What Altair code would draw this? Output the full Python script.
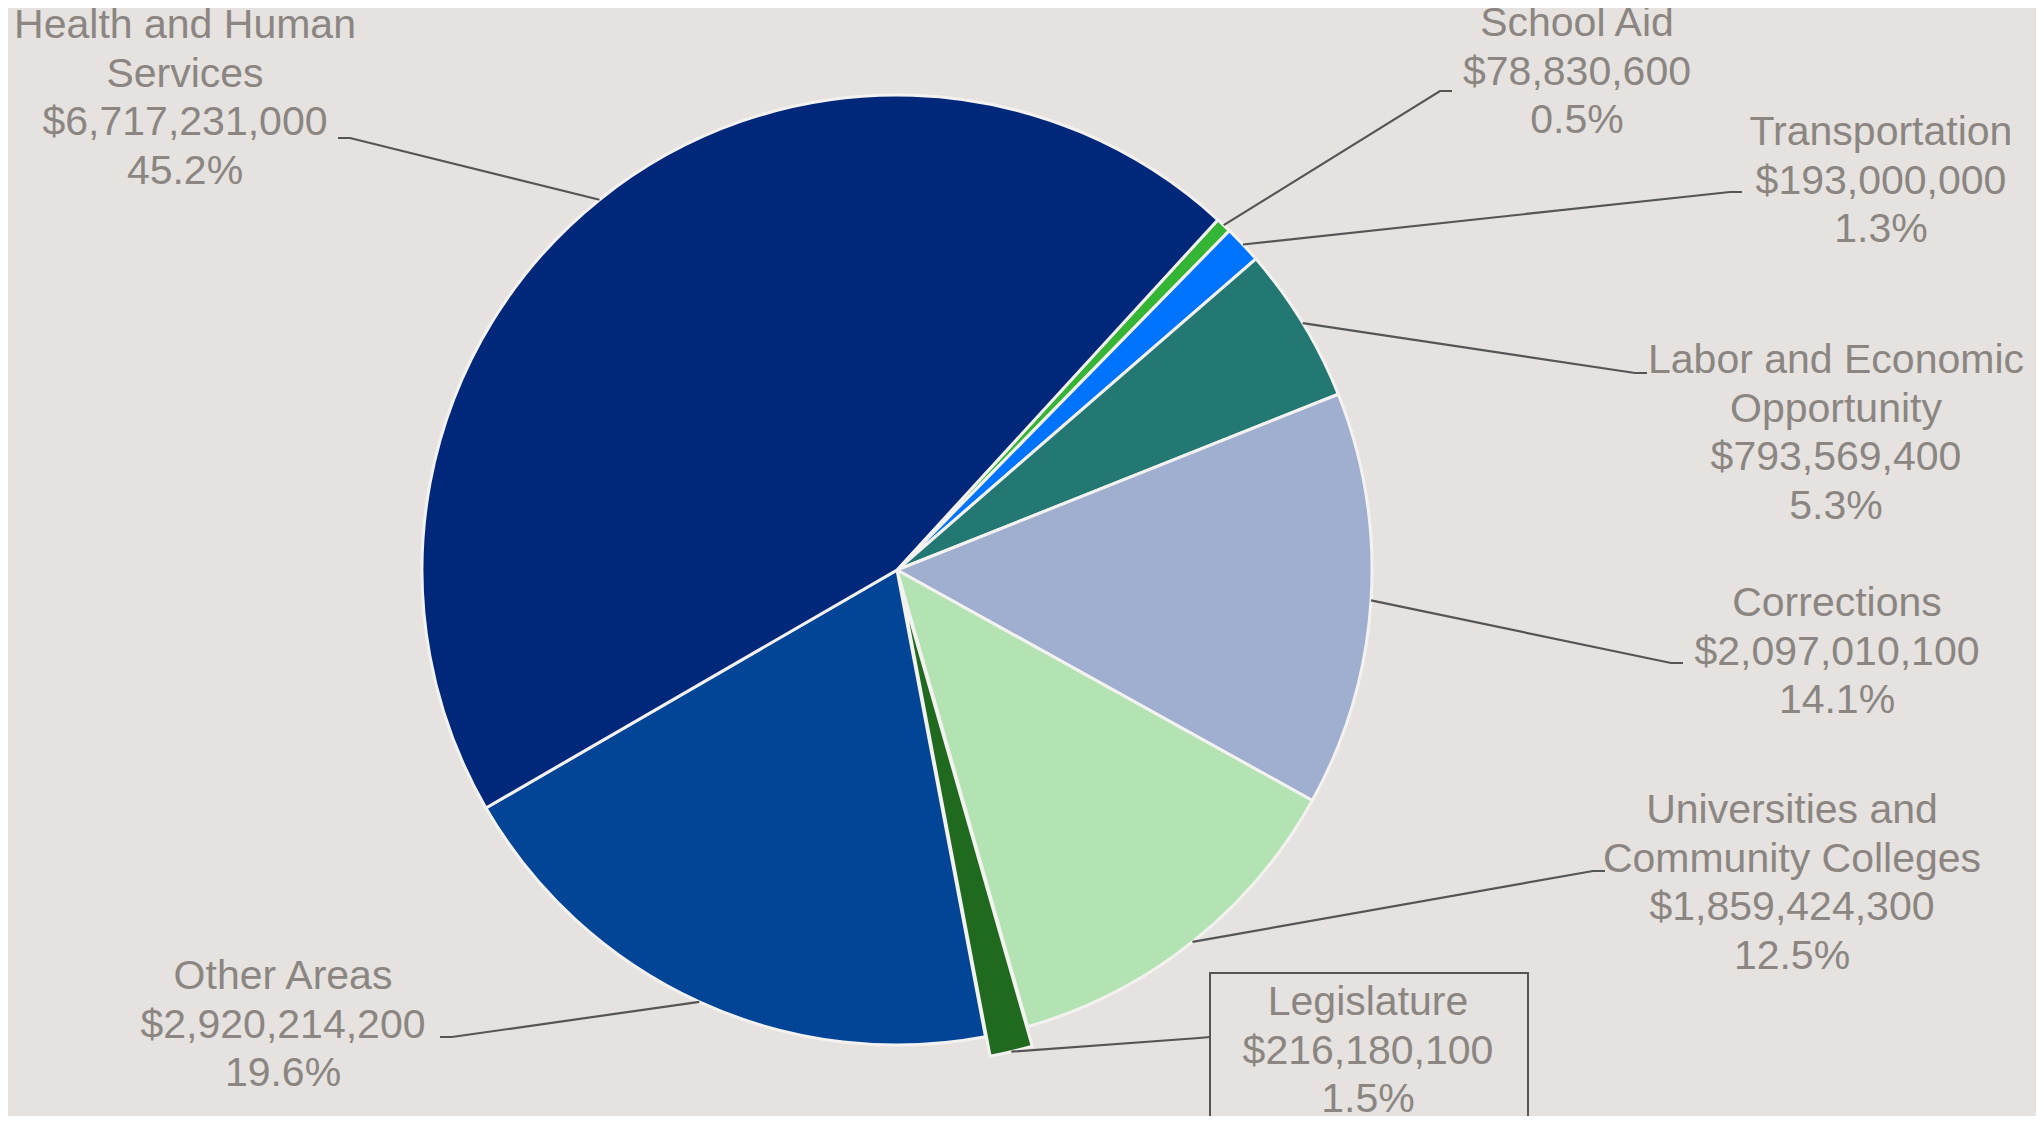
import math
import altair as alt
import pandas as pd

# ---------------- data ----------------
categories = [
    "School Aid",
    "Transportation",
    "Labor and Economic Opportunity",
    "Corrections",
    "Universities and Community Colleges",
    "Legislature",
    "Other Areas",
    "Health and Human Services",
]
label_names = [
    "School Aid",
    "Transportation",
    "Labor and Economic\nOpportunity",
    "Corrections",
    "Universities and\nCommunity Colleges",
    "Legislature",
    "Other Areas",
    "Health and Human\nServices",
]
values = [78830600, 193000000, 793569400, 2097010100, 1859424300,
          216180100, 2920214200, 6717231000]

# ---------------- style / layout ----------------
colors = ["#35B535", "#0073FF", "#247874", "#A0AECF", "#B3E2B3",
          "#1F6A1F", "#024596", "#00287A"]
BG = "#E6E2DF"
TEXT = "#8B8682"
LINE = "#555555"
FONT = "Liberation Sans"
CX, CY, R = 889, 562, 475
START_DEG = 42.5
EXPLODE = {"Legislature": 20}

# label layout: center x, first baseline y, tick anchor (label side), tick bend
label_cx = [1569, 1873, 1828, 1829, 1784, 1360, 275, 177]
label_y0 = [28, 137, 365, 608, 815, 1007, 981, 30]
anchor_x = [1444, 1734, 1639, 1675, 1597, 1202, 432, 330]
anchor_y = [83, 184, 365, 655, 863, 1029, 1029, 130]
bend_x = [1432, 1722, 1627, 1663, 1585, 1191, 444, 342]
bend_y = [83, 184, 365, 655, 863, 1030, 1029, 130]
box = dict(x=1202, x2=1520, y=965, y2=1200)

W, H = 2028, 1108

# ---------------- derived tables ----------------
total = float(sum(values))
rows, lines, labels = [], [], []
cum = 0.0
for i, (c, v) in enumerate(zip(categories, values)):
    start = cum / total
    end = (cum + v) / total
    cum += v
    mid = math.radians(START_DEG + (start + end) / 2 * 360)
    off = EXPLODE.get(c, 0)
    cx = CX + off * math.sin(mid)
    cy = CY - off * math.cos(mid)
    rows.append(dict(cat=c, start=start, end=end, cx=cx, cy=cy, order=i))
    ex = cx + R * math.sin(mid)
    ey = cy - R * math.cos(mid)
    for k, (px, py) in enumerate([(ex, ey), (bend_x[i], bend_y[i]),
                                  (anchor_x[i], anchor_y[i])]):
        lines.append(dict(cat=c, k=k, px=px, py=py))
    txt = "{}\n${:,}\n{:.1f}%".format(label_names[i], v, v / total * 100)
    labels.append(dict(cat=c, label=txt, lx=label_cx[i], ly=label_y0[i]))

arcs_df = pd.DataFrame(rows)
lines_df = pd.DataFrame(lines)
labels_df = pd.DataFrame(labels)
box_df = pd.DataFrame([box])

start_rad = math.radians(START_DEG)

pie = alt.Chart(arcs_df).mark_arc(
    outerRadius=R, stroke="#F4F2F0", strokeWidth=3
).encode(
    theta=alt.Theta("start:Q", scale=alt.Scale(domain=[0, 1],
                    range=[start_rad, start_rad + 2 * math.pi])),
    theta2="end:Q",
    x=alt.X("cx:Q", scale=None),
    y=alt.Y("cy:Q", scale=None),
    color=alt.Color("cat:N", scale=alt.Scale(domain=categories, range=colors),
                    legend=None),
)

leaders = alt.Chart(lines_df).mark_line(color=LINE, strokeWidth=2.2).encode(
    x=alt.X("px:Q", scale=None),
    y=alt.Y("py:Q", scale=None),
    detail="cat:N",
    order="k:Q",
)

text = alt.Chart(labels_df).mark_text(
    align="center", baseline="alphabetic", lineBreak="\n", lineHeight=48.5,
    font=FONT, fontSize=41, color=TEXT
).encode(
    x=alt.X("lx:Q", scale=None),
    y=alt.Y("ly:Q", scale=None),
    text="label:N",
)

boxes = alt.Chart(box_df).mark_rect(
    fillOpacity=0, stroke=LINE, strokeWidth=2
).encode(
    x=alt.X("x:Q", scale=None),
    x2="x2:Q",
    y=alt.Y("y:Q", scale=None),
    y2="y2:Q",
)

chart = alt.layer(pie, leaders, boxes, text).properties(
    width=W, height=H,
    autosize=alt.AutoSizeParams(type="none"),
    padding=0,
    background=BG,
).configure_view(stroke=None)

chart.save("out.html", embed_options={"renderer": "svg", "actions": False})
